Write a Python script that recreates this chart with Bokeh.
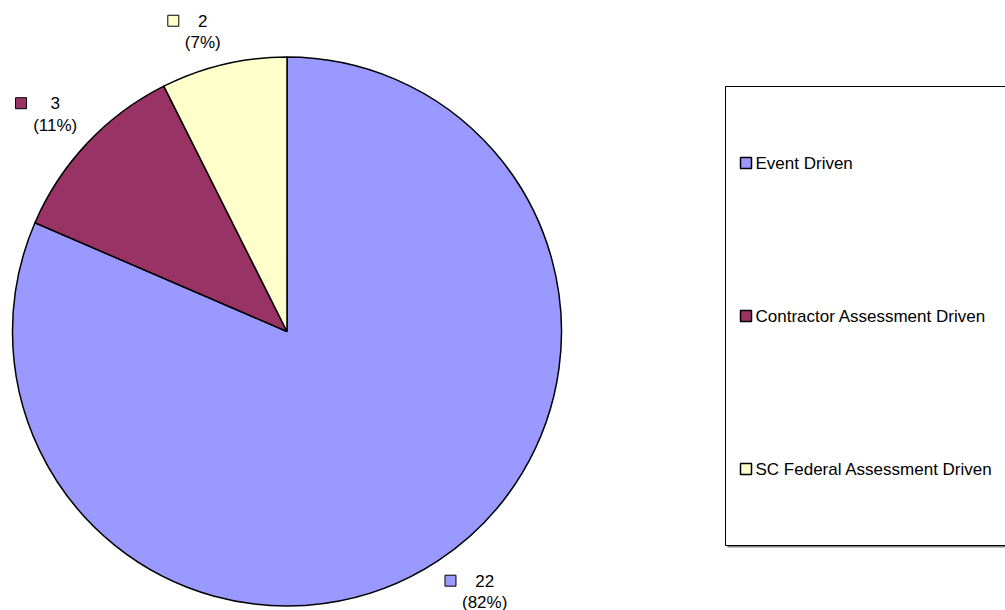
import math
from bokeh.plotting import figure
from bokeh.models import Range1d
from bokeh.core.properties import value
from bokeh.embed import file_html
from bokeh.resources import INLINE

# ---- data ----
categories = ["Event Driven", "Contractor Assessment Driven", "SC Federal Assessment Driven"]
counts = [22, 3, 2]
colors = ["#9999FF", "#993366", "#FFFFCC"]

FONT = value("Liberation Sans")
FS = "17px"

# Arial-like advance widths (per 1000 em) for label width estimation
AW = {"(": 333, ")": 333, "%": 889}
for d in "0123456789":
    AW[d] = 556


def text_w(s, size=17):
    return sum(AW.get(c, 556) for c in s) * size / 1000.0


WIDTH, HEIGHT = 1005, 610


def Y(py):
    return HEIGHT - py


p = figure(width=WIDTH, height=HEIGHT, x_range=Range1d(0, WIDTH), y_range=Range1d(0, HEIGHT),
           output_backend="svg", toolbar_location=None, min_border=0)
p.axis.visible = False
p.grid.visible = False
p.outline_line_color = None
p.background_fill_color = "white"
p.border_fill_color = "white"

# ---- pie ----
cx, cy, R = 286.5, Y(331), 274.5
total = sum(counts)

# percentages rounded so they sum to 100 (largest remainder)
raw = [c / total * 100 for c in counts]
pcts = [int(math.floor(r)) for r in raw]
rem = 100 - sum(pcts)
for i in sorted(range(len(raw)), key=lambda i: raw[i] - pcts[i], reverse=True)[:rem]:
    pcts[i] += 1

cum = 0.0
for cnt, col in zip(counts, colors):
    a0 = math.pi / 2 - cum / total * 2 * math.pi
    cum += cnt
    a1 = math.pi / 2 - cum / total * 2 * math.pi
    p.wedge(x=[cx], y=[cy], radius=R, start_angle=a0, end_angle=a1, direction="clock",
            fill_color=col, line_color="black", line_width=1.5)

# ---- data labels ----
cum = 0.0
for cnt, pc, col in zip(counts, pcts, colors):
    mid = (cum + cnt / 2) / total * 2 * math.pi  # clockwise from top
    cum += cnt
    dx, dy = math.sin(mid), math.cos(mid)  # data coords (y up)
    pct = "(%d%%)" % pc
    tw = max(text_w(pct), text_w(str(cnt)))
    key, gap, lh = 11, 6, 40
    lw = key + gap + tw
    ax = cx + dx * (R + 13)
    ay = cy + dy * (R + 13)
    left = ax if dx >= 0 else ax - lw
    top = ay if dy < 0 else ay + lh
    tcx = left + key + gap + tw / 2
    y1 = top - 9
    y2 = top - 31
    p.rect(x=[left + key / 2], y=[y1], width=key, height=key, fill_color=col,
           line_color="black", line_width=1)
    p.text(x=[tcx], y=[y1], text=[str(cnt)], text_font=FONT, text_font_size=FS,
           text_align="center", text_baseline="middle", text_color="black")
    p.text(x=[tcx], y=[y2], text=[pct], text_font=FONT, text_font_size=FS,
           text_align="center", text_baseline="middle", text_color="black")

# ---- legend ----
bl, bt, bb, br = 725, 86, 545, 1012
p.quad(left=[bl + 2], right=[br + 2], top=[Y(bt + 2)], bottom=[Y(bb + 2)],
       fill_color="#808080", line_color=None)
p.quad(left=[bl], right=[br], top=[Y(bt)], bottom=[Y(bb)],
       fill_color="white", line_color="black", line_width=1)
n = len(categories)
bh = bb - bt
for i, (cat, col) in enumerate(zip(categories, colors)):
    iy = Y(bt + bh * (2 * i + 1) / (2 * n))
    p.rect(x=[745.5], y=[iy], width=11, height=11, fill_color=col,
           line_color="black", line_width=1.5)
    p.text(x=[755], y=[iy], text=[cat], text_font=FONT, text_font_size=FS,
           text_align="left", text_baseline="middle", text_color="black")

open("out.html", "w").write(file_html(p, INLINE))
